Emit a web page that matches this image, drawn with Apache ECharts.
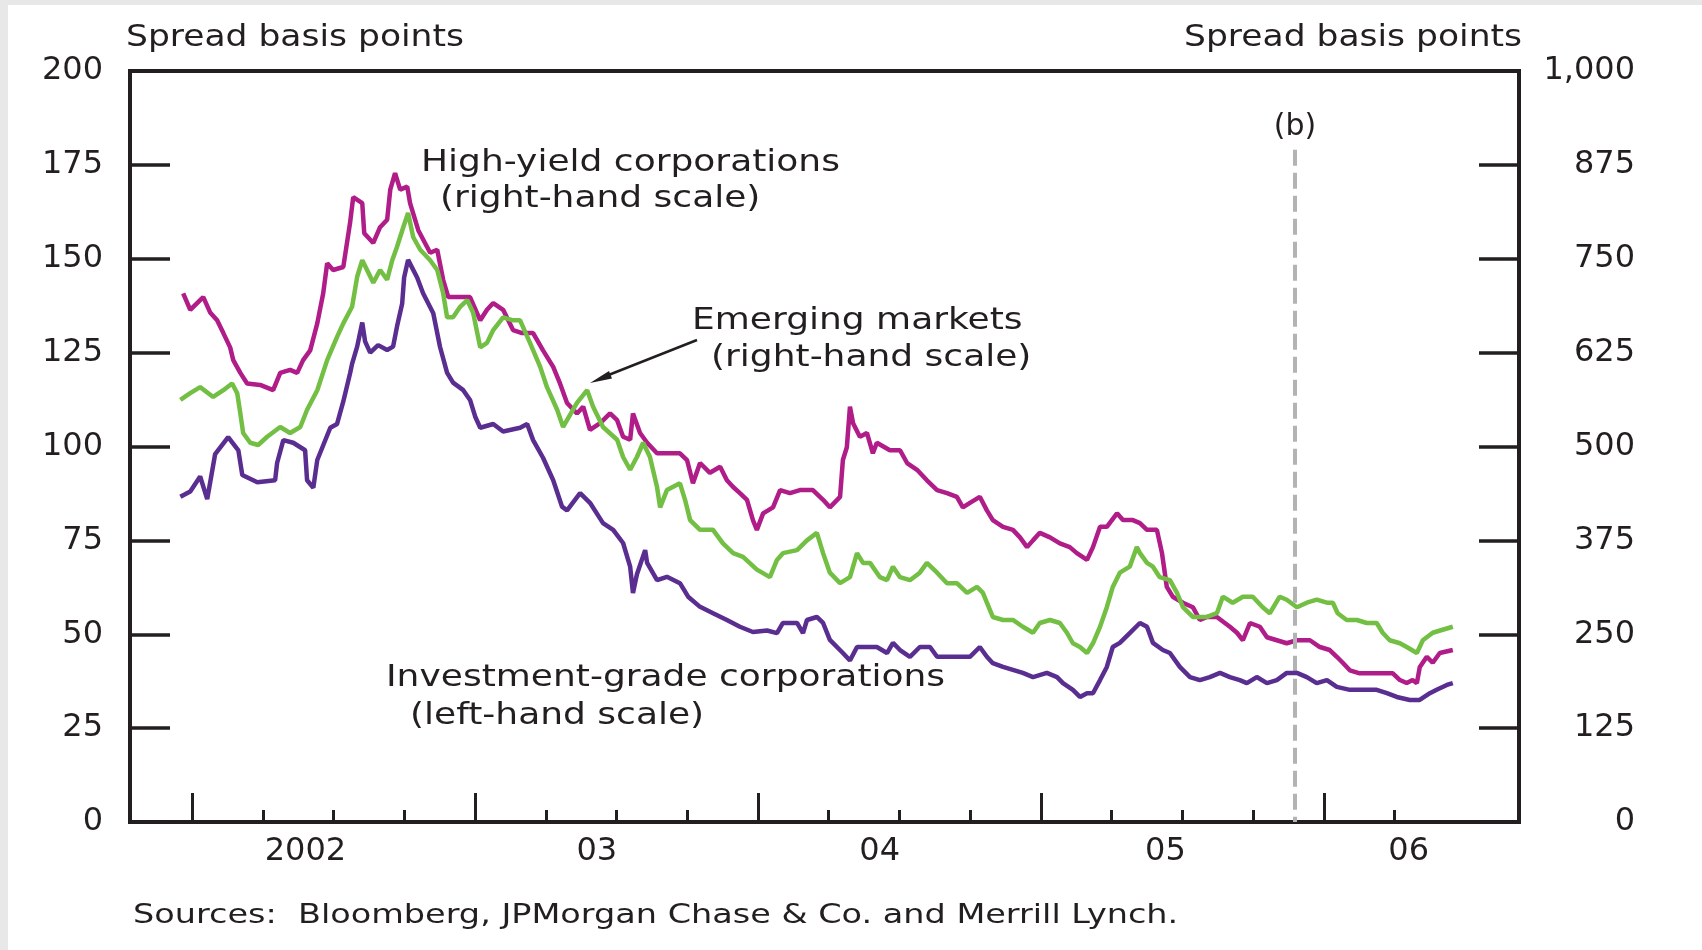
<!DOCTYPE html>
<html>
<head>
<meta charset="utf-8">
<script src="https://cdn.jsdelivr.net/npm/echarts@6/dist/echarts.min.js"></script>
<style>
  html, body { margin: 0; padding: 0; background: #fff; }
  #chart { width: 1702px; height: 950px; }
</style>
</head>
<body>
<div id="chart"></div>
<script>
// time is in decimal years, spreads in basis points
var highYield = [
  [2001.968, 704], [2001.993, 682], [2002.028, 695], [2002.039, 699], [2002.064, 678], [2002.088, 668],
  [2002.110, 651], [2002.134, 632], [2002.145, 615], [2002.170, 598], [2002.194, 584], [2002.240, 582],
  [2002.286, 575], [2002.311, 598], [2002.346, 602], [2002.371, 598], [2002.392, 615], [2002.417, 628],
  [2002.442, 664], [2002.463, 704], [2002.477, 744], [2002.498, 735], [2002.534, 739], [2002.558, 798],
  [2002.569, 832], [2002.601, 824], [2002.608, 784], [2002.640, 771], [2002.664, 792], [2002.689, 802],
  [2002.700, 842], [2002.717, 864], [2002.735, 842], [2002.760, 846], [2002.770, 824], [2002.799, 788],
  [2002.841, 758], [2002.866, 762], [2002.887, 722], [2002.905, 699], [2002.936, 699], [2002.982, 699],
  [2003.018, 668], [2003.042, 682], [2003.064, 691], [2003.099, 682], [2003.134, 655], [2003.166, 651],
  [2003.205, 651], [2003.240, 628], [2003.276, 606], [2003.300, 584], [2003.325, 558], [2003.360, 544],
  [2003.382, 553], [2003.406, 522], [2003.442, 531], [2003.477, 544], [2003.502, 535], [2003.523, 513],
  [2003.548, 509], [2003.558, 544], [2003.583, 518], [2003.608, 505], [2003.643, 491], [2003.689, 491],
  [2003.724, 491], [2003.749, 482], [2003.770, 451], [2003.795, 478], [2003.830, 465], [2003.866, 473],
  [2003.890, 455], [2003.912, 446], [2003.936, 438], [2003.961, 429], [2003.982, 402], [2003.996, 389],
  [2004.018, 411], [2004.053, 419], [2004.078, 442], [2004.113, 438], [2004.148, 442], [2004.194, 442],
  [2004.230, 429], [2004.254, 419], [2004.290, 433], [2004.300, 482], [2004.314, 499], [2004.325, 553],
  [2004.336, 531], [2004.360, 513], [2004.385, 518], [2004.406, 491], [2004.420, 505], [2004.466, 495],
  [2004.502, 495], [2004.527, 478], [2004.562, 469], [2004.597, 455], [2004.633, 442], [2004.668, 438],
  [2004.703, 433], [2004.724, 419], [2004.749, 425], [2004.784, 433], [2004.809, 415], [2004.830, 402],
  [2004.866, 393], [2004.901, 389], [2004.926, 379], [2004.951, 366], [2004.972, 375], [2004.996, 385],
  [2005.032, 379], [2005.067, 371], [2005.102, 366], [2005.127, 358], [2005.163, 349], [2005.184, 366],
  [2005.209, 393], [2005.233, 393], [2005.269, 411], [2005.290, 402], [2005.325, 402], [2005.350, 398],
  [2005.375, 389], [2005.410, 389], [2005.428, 358], [2005.445, 313], [2005.466, 300], [2005.502, 292],
  [2005.537, 286], [2005.562, 269], [2005.587, 273], [2005.622, 273], [2005.668, 260], [2005.693, 252],
  [2005.714, 242], [2005.739, 265], [2005.774, 260], [2005.799, 246], [2005.834, 242], [2005.869, 238],
  [2005.905, 242], [2005.951, 242], [2005.986, 233], [2006.021, 229], [2006.046, 220], [2006.067, 212],
  [2006.092, 202], [2006.127, 198], [2006.163, 198], [2006.208, 198], [2006.244, 198], [2006.269, 189],
  [2006.293, 185], [2006.314, 189], [2006.329, 185], [2006.339, 206], [2006.364, 220], [2006.385, 212],
  [2006.410, 225], [2006.456, 229]
]

var emerging = [
  [2001.958, 562], [2001.993, 571], [2002.028, 579], [2002.074, 566], [2002.110, 575], [2002.141, 584],
  [2002.159, 571], [2002.170, 544], [2002.180, 518], [2002.205, 505], [2002.233, 502], [2002.265, 513],
  [2002.311, 526], [2002.346, 518], [2002.382, 526], [2002.406, 549], [2002.442, 575], [2002.477, 615],
  [2002.512, 646], [2002.534, 664], [2002.565, 686], [2002.583, 726], [2002.601, 748], [2002.618, 735],
  [2002.640, 718], [2002.664, 735], [2002.689, 722], [2002.707, 748], [2002.724, 766], [2002.746, 792],
  [2002.763, 811], [2002.781, 779], [2002.806, 762], [2002.841, 748], [2002.866, 735], [2002.887, 704],
  [2002.901, 672], [2002.922, 672], [2002.947, 686], [2002.972, 695], [2002.993, 678], [2003.018, 632],
  [2003.042, 638], [2003.064, 655], [2003.099, 672], [2003.134, 668], [2003.159, 668], [2003.194, 638],
  [2003.230, 606], [2003.254, 579], [2003.290, 549], [2003.311, 526], [2003.360, 558], [2003.396, 575],
  [2003.417, 553], [2003.452, 526], [2003.502, 509], [2003.523, 486], [2003.548, 469], [2003.572, 486],
  [2003.594, 505], [2003.618, 486], [2003.643, 446], [2003.654, 419], [2003.678, 442], [2003.724, 451],
  [2003.742, 429], [2003.760, 402], [2003.795, 389], [2003.841, 389], [2003.876, 371], [2003.912, 358],
  [2003.947, 353], [2003.996, 336], [2004.042, 326], [2004.067, 349], [2004.088, 358], [2004.138, 362],
  [2004.173, 375], [2004.208, 385], [2004.230, 358], [2004.254, 332], [2004.290, 318], [2004.325, 326],
  [2004.350, 358], [2004.371, 345], [2004.396, 345], [2004.431, 326], [2004.456, 322], [2004.477, 340],
  [2004.502, 326], [2004.537, 322], [2004.572, 332], [2004.597, 345], [2004.633, 332], [2004.668, 318],
  [2004.703, 318], [2004.739, 305], [2004.774, 313], [2004.795, 305], [2004.809, 292], [2004.830, 273],
  [2004.866, 269], [2004.901, 269], [2004.936, 260], [2004.972, 252], [2004.996, 265], [2005.032, 269],
  [2005.067, 265], [2005.092, 252], [2005.113, 238], [2005.138, 233], [2005.163, 225], [2005.184, 238],
  [2005.209, 260], [2005.233, 286], [2005.254, 313], [2005.279, 332], [2005.314, 340], [2005.339, 366],
  [2005.350, 358], [2005.375, 345], [2005.396, 340], [2005.420, 326], [2005.456, 322], [2005.481, 305],
  [2005.502, 286], [2005.537, 273], [2005.587, 273], [2005.622, 278], [2005.643, 300], [2005.678, 292],
  [2005.714, 300], [2005.749, 300], [2005.784, 286], [2005.809, 278], [2005.844, 300], [2005.869, 296],
  [2005.905, 286], [2005.940, 292], [2005.975, 296], [2006.011, 292], [2006.032, 292], [2006.049, 278],
  [2006.081, 269], [2006.117, 269], [2006.152, 265], [2006.187, 265], [2006.208, 252], [2006.233, 242],
  [2006.269, 238], [2006.293, 233], [2006.329, 225], [2006.350, 242], [2006.385, 252], [2006.420, 256],
  [2006.456, 260]
]

var investmentGrade = [
  [2001.958, 86.6], [2001.993, 88], [2002.028, 92], [2002.053, 86], [2002.081, 98], [2002.127, 102.5],
  [2002.163, 99], [2002.177, 92.4], [2002.230, 90.5], [2002.293, 91], [2002.300, 95.6], [2002.322, 101.7],
  [2002.357, 101], [2002.399, 99], [2002.406, 91], [2002.428, 89], [2002.442, 96.4], [2002.488, 105],
  [2002.512, 106], [2002.534, 112], [2002.558, 119.5], [2002.565, 122], [2002.583, 126.6], [2002.601, 133],
  [2002.611, 128], [2002.629, 125], [2002.657, 127], [2002.689, 125.7], [2002.710, 126.6], [2002.724, 132],
  [2002.742, 138], [2002.749, 145], [2002.763, 149.7], [2002.795, 145], [2002.816, 140.8], [2002.852, 135.5],
  [2002.876, 126.5], [2002.901, 119.6], [2002.922, 117], [2002.958, 115], [2002.982, 112.4], [2003.000, 108],
  [2003.018, 105], [2003.064, 106], [2003.099, 104], [2003.159, 105], [2003.184, 106], [2003.205, 101.7],
  [2003.240, 97], [2003.276, 91], [2003.307, 84], [2003.325, 83], [2003.371, 87.6], [2003.406, 85],
  [2003.452, 79.6], [2003.488, 77.8], [2003.523, 74.3], [2003.548, 68], [2003.558, 61], [2003.572, 66],
  [2003.601, 72.4], [2003.608, 69], [2003.643, 64.4], [2003.678, 65.3], [2003.724, 63.6], [2003.753, 60],
  [2003.795, 57.3], [2003.841, 55.6], [2003.890, 53.8], [2003.936, 52], [2003.982, 50.6], [2004.032, 51],
  [2004.067, 50.3], [2004.088, 53], [2004.138, 53], [2004.159, 50.3], [2004.173, 53.8], [2004.208, 54.6],
  [2004.230, 53], [2004.254, 48.5], [2004.300, 45], [2004.325, 43], [2004.350, 46.6], [2004.385, 46.6],
  [2004.420, 46.6], [2004.456, 45], [2004.477, 47.7], [2004.502, 45.8], [2004.537, 44], [2004.572, 46.6],
  [2004.608, 46.6], [2004.633, 44], [2004.668, 44], [2004.714, 44], [2004.749, 44], [2004.784, 46.6],
  [2004.809, 44], [2004.830, 42.3], [2004.866, 41.3], [2004.901, 40.5], [2004.936, 39.7], [2004.972, 38.6],
  [2005.021, 39.7], [2005.057, 38.6], [2005.078, 37], [2005.113, 35.2], [2005.138, 33.3], [2005.163, 34.3],
  [2005.184, 34.3], [2005.209, 37.8], [2005.233, 41.3], [2005.254, 46.6], [2005.279, 47.7], [2005.314, 50.3],
  [2005.350, 53], [2005.375, 52], [2005.396, 47.7], [2005.431, 45.8], [2005.456, 45], [2005.491, 41.3],
  [2005.527, 38.6], [2005.562, 37.8], [2005.597, 38.6], [2005.633, 39.7], [2005.668, 38.6], [2005.703, 37.8],
  [2005.728, 37], [2005.763, 38.6], [2005.799, 37], [2005.834, 37.8], [2005.869, 39.7], [2005.905, 39.7],
  [2005.940, 38.6], [2005.975, 37], [2006.011, 37.8], [2006.046, 36], [2006.092, 35.2], [2006.138, 35.2],
  [2006.187, 35.2], [2006.223, 34.3], [2006.258, 33.3], [2006.304, 32.5], [2006.339, 32.5], [2006.375, 34.3],
  [2006.399, 35.2], [2006.435, 36.5], [2006.456, 37]
]

var years = [2002, 2003, 2004, 2005, 2006]
var yearLabels = ['2002', '03', '04', '05', '06']
var yearLabelAt = [2002.40, 2003.43, 2004.43, 2005.44, 2006.30]
var quarterTicks = [2002.25, 2002.5, 2002.75, 2003.25, 2003.5, 2003.75, 2004.25, 2004.5, 2004.75,
  2005.25, 2005.5, 2005.75, 2006.25]
var markerB = 2005.898

var INK = '#231f20'
var FONT = '"DejaVu Sans", sans-serif'
var X_MIN = 2001.78
var X_MAX = 2006.69

function note (text, x, y, opts) {
  opts = opts || {}
  return {
    type: 'text',
    x: x,
    y: y,
    scaleX: opts.scaleX || 1.2,
    silent: true,
    z: 50,
    style: {
      text: text,
      fill: INK,
      fontSize: opts.size || 30,
      fontFamily: FONT,
      textAlign: opts.align || 'left',
      textVerticalAlign: 'middle'
    }
  }
}

var chart = echarts.init(document.getElementById('chart'))

chart.setOption({
  backgroundColor: '#fff',
  animation: false,
  grid: {
    left: 130,
    right: 183,
    top: 71,
    bottom: 128,
    show: true,
    borderColor: INK,
    borderWidth: 4,
    outerBoundsMode: 'none'
  },
  xAxis: [{
    type: 'value',
    min: X_MIN,
    max: X_MAX,
    position: 'bottom',
    axisLine: { show: false },
    splitLine: { show: false },
    axisTick: {
      show: true,
      inside: true,
      length: 12,
      customValues: quarterTicks,
      lineStyle: { color: INK, width: 3 }
    },
    axisLabel: { show: false }
  }, {
    type: 'value',
    min: X_MIN,
    max: X_MAX,
    position: 'bottom',
    axisLine: { show: false },
    splitLine: { show: false },
    axisTick: {
      show: true,
      inside: true,
      length: 29,
      customValues: years,
      lineStyle: { color: INK, width: 3 }
    },
    axisLabel: {
      customValues: yearLabelAt,
      margin: 14,
      color: INK,
      fontSize: 32,
      fontFamily: FONT,
      formatter: function (v) {
        var best = 0
        for (var i = 1; i < yearLabelAt.length; i++) {
          if (Math.abs(yearLabelAt[i] - v) < Math.abs(yearLabelAt[best] - v)) best = i
        }
        return yearLabels[best]
      }
    }
  }],
  yAxis: [{
    type: 'value',
    min: 0,
    max: 200,
    interval: 25,
    position: 'left',
    axisLine: { show: false },
    splitLine: { show: false },
    axisTick: { inside: true, length: 40, lineStyle: { color: INK, width: 3.5 } },
    axisLabel: { color: INK, fontSize: 32, fontFamily: FONT, margin: 27 }
  }, {
    type: 'value',
    min: 0,
    max: 1000,
    interval: 125,
    position: 'right',
    axisLine: { show: false },
    splitLine: { show: false },
    axisTick: { inside: true, length: 40, lineStyle: { color: INK, width: 3.5 } },
    axisLabel: {
      color: INK,
      fontSize: 32,
      fontFamily: FONT,
      align: 'right',
      margin: 116,
      formatter: function (v) { return v.toLocaleString('en-US') }
    }
  }],
  series: [{
    name: 'High-yield corporations',
    type: 'line',
    yAxisIndex: 1,
    data: highYield,
    showSymbol: false,
    lineStyle: { color: '#b01c88', width: 4.5 },
    z: 3
  }, {
    name: 'Emerging markets',
    type: 'line',
    yAxisIndex: 1,
    data: emerging,
    showSymbol: false,
    lineStyle: { color: '#72bf44', width: 4.5 },
    z: 4
  }, {
    name: 'Investment-grade corporations',
    type: 'line',
    yAxisIndex: 0,
    data: investmentGrade,
    showSymbol: false,
    lineStyle: { color: '#5a2d91', width: 4.5 },
    z: 5,
    markLine: {
      silent: true,
      symbol: ['none', 'none'],
      lineStyle: { color: '#b3b3b3', width: 4, type: [16, 7] },
      label: {
        show: true,
        position: 'start',
        distance: 8,
        formatter: '(b)',
        color: INK,
        fontSize: 30,
        fontFamily: FONT
      },
      data: [[{ coord: [markerB, 179] }, { coord: [markerB, 0] }]]
    }
  }],
  graphic: [
    { type: 'rect', shape: { x: 0, y: 0, width: 8, height: 950 }, style: { fill: '#e8e8e8' }, silent: true },
    { type: 'rect', shape: { x: 0, y: 0, width: 1702, height: 5 }, style: { fill: '#e8e8e8' }, silent: true },
    note('Spread basis points', 126, 38, { scaleX: 1.15 }),
    note('Spread basis points', 1522, 38, { scaleX: 1.15, align: 'right' }),
    note('High-yield corporations', 421, 163),
    note('(right-hand scale)', 440, 199),
    note('Emerging markets', 692, 321),
    note('(right-hand scale)', 711, 358),
    note('Investment-grade corporations', 386, 678),
    note('(left-hand scale)', 410, 716),
    note('Sources:  Bloomberg, JPMorgan Chase & Co. and Merrill Lynch.', 133, 916, { size: 27, scaleX: 1.24 }),
    {
      type: 'line',
      silent: true,
      z: 50,
      shape: { x1: 697, y1: 340, x2: 606, y2: 376 },
      style: { stroke: INK, lineWidth: 2.5 }
    },
    {
      type: 'polygon',
      silent: true,
      z: 50,
      shape: { points: [[590, 383], [612, 378.5], [609, 371]] },
      style: { fill: INK }
    }
  ]
})
</script>
</body>
</html>
